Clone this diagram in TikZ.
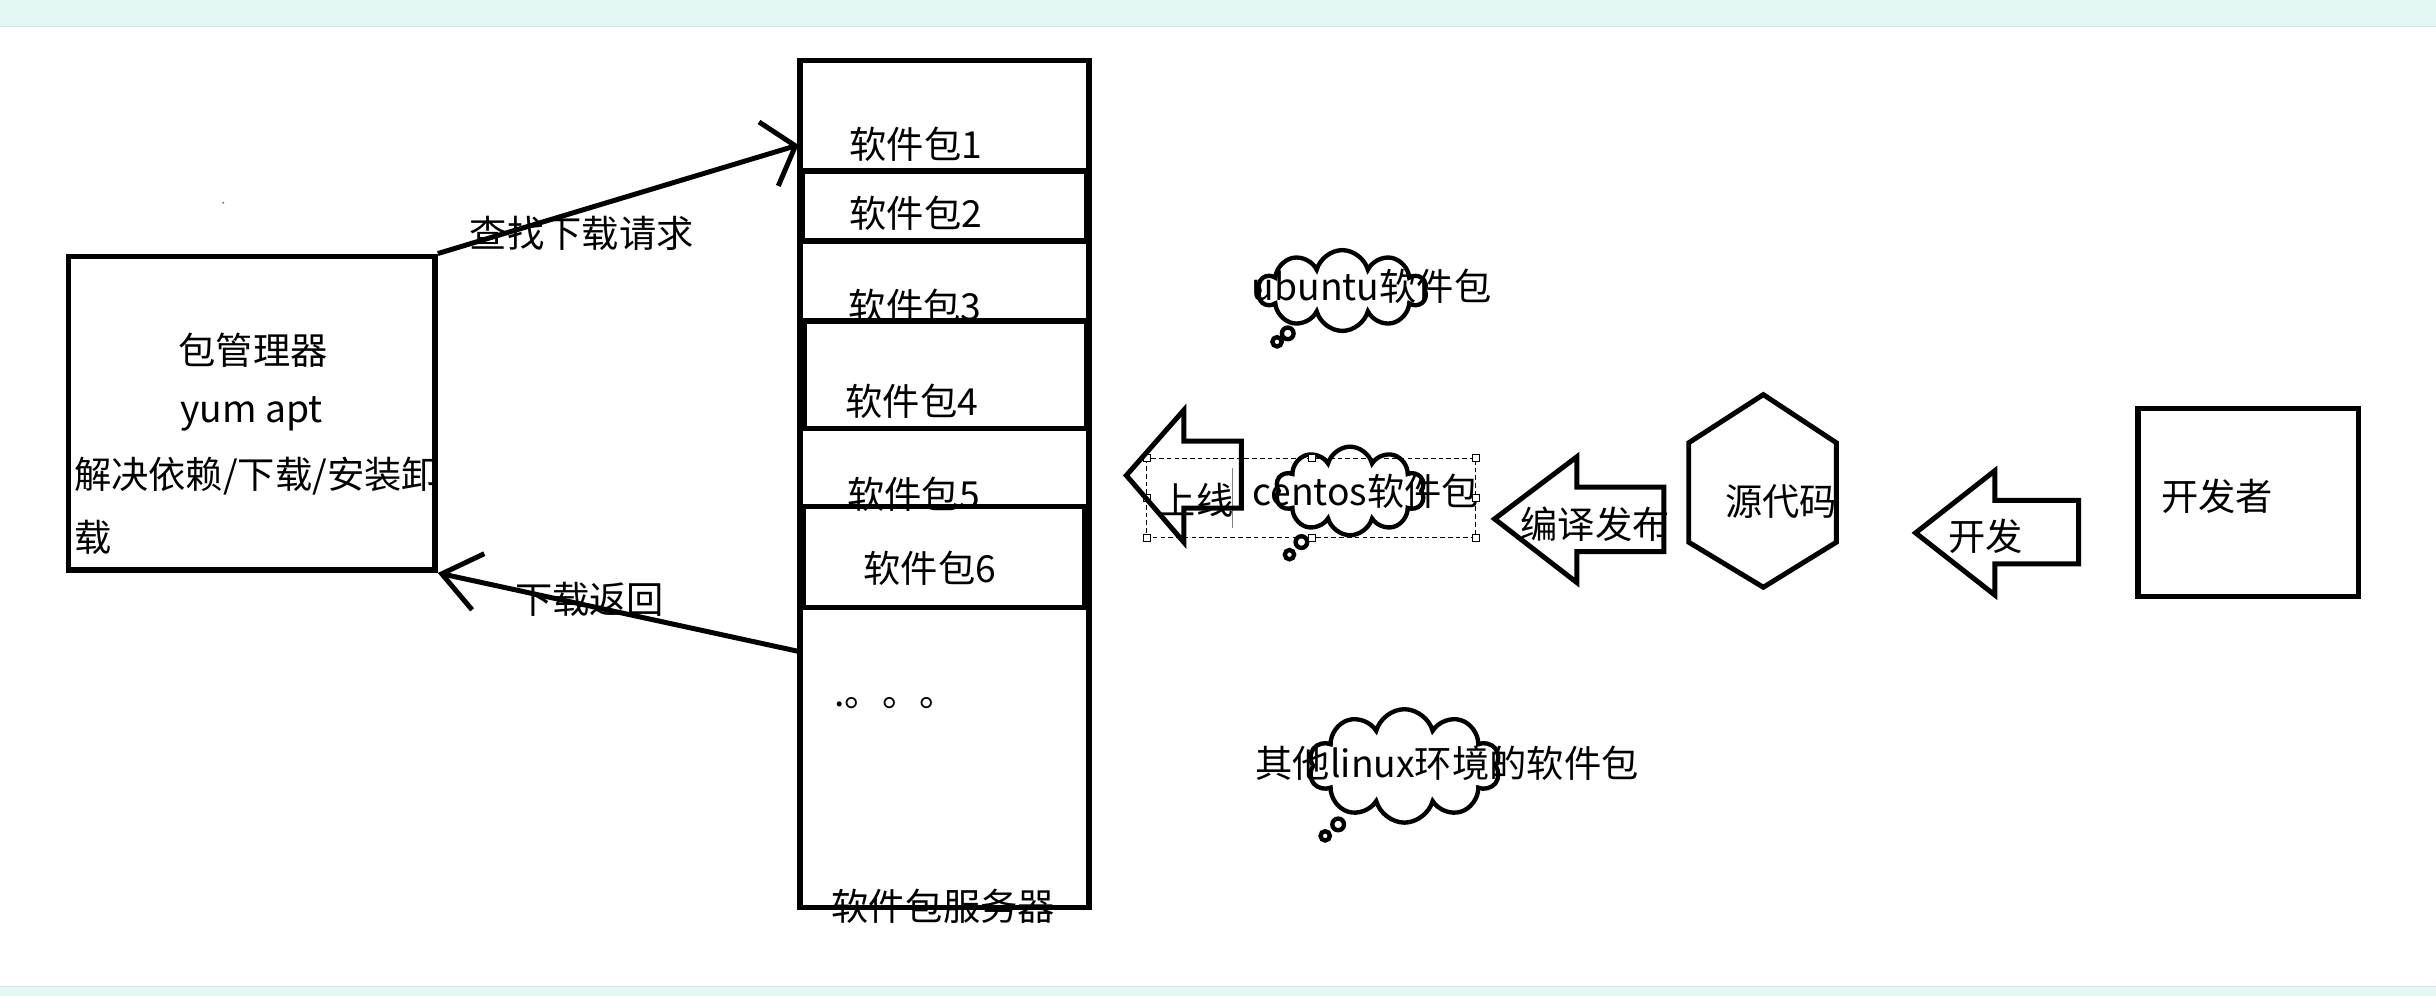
\documentclass[tikz,border=0pt]{standalone}
\usepackage{fontspec}
\setmainfont{Noto Sans CJK SC}
\usetikzlibrary{arrows.meta,shapes.callouts}
\definecolor{bandfill}{RGB}{228,247,245}
\definecolor{bandedge}{RGB}{210,230,228}

\begin{document}
\begin{tikzpicture}[x=1pt, y=-1pt,
  box/.style={draw, line width=3.6pt, inner sep=0pt},
  lbl/.style={font=\fontsize{24}{28}\selectfont, inner sep=0pt, anchor=base},
  blockarrow/.style={draw, line width=3.2pt, line join=miter},
  thought/.style={cloud callout, draw, line width=2.8pt, cloud puffs=10, callout pointer segments=2,
    callout pointer start size=15pt and 9pt, callout pointer end size=11pt and 6pt, inner sep=0pt},
  handle/.style={draw, fill=white, line width=0.6pt, minimum size=4.5pt, inner sep=0pt},
  flow/.style={line width=3.2pt}
]

  \useasboundingbox (0,0) rectangle (1568,641);
  \fill[white] (0,0) rectangle (1568,641);
  \fill[bandfill] (0,0) rectangle (1568,17);
  \draw[bandedge, line width=1pt] (0,17) -- (1568,17);
  \fill[bandfill] (0,635) rectangle (1568,641);
  \draw[bandedge, line width=1pt] (0,635) -- (1568,635);
  \fill[gray] (143.7,130.5) circle (0.7);

  % package manager
  \node[box, minimum width=236pt, minimum height=202pt] (pm) at (162,266) {};
  \node[lbl] (pmname) at (163,234.3) {包管理器};
  \node[lbl] (pmtool) at (162,272) {yum apt};
  \node[lbl, anchor=base west] (pmjob) at (47.5,314.3) {解决依赖/下载/安装卸};
  \node[lbl, anchor=base west] (pmjobb) at (47.5,354.8) {载};

  % server column and its packages
  \node[box, minimum width=186pt, minimum height=545pt] (server) at (608,311.5) {};
  \node[box, minimum width=183pt, minimum height=45pt] (pkg2) at (608,132.5) {};
  \node[box, minimum width=182pt, minimum height=69pt] (pkg4) at (608.5,241.3) {};
  \node[box, minimum width=181pt, minimum height=65pt] (pkg6) at (607.5,358.4) {};
  \node[lbl] (p1) at (589.5,101.8) {软件包1};
  \node[lbl] (p2) at (589.5,146.3) {软件包2};
  \node[lbl] (p3) at (589,206.3) {软件包3};
  \node[lbl] (p4) at (587,267.3) {软件包4};
  \node[lbl] (p5) at (588,327.3) {软件包5};
  \node[lbl] (p6) at (598.5,374.8) {软件包6};
  \node[lbl, anchor=base west] (more) at (537,455) {.。。。};
  \node[lbl] (servername) at (607,592.3) {软件包服务器};

  \coordinate (reqin) at (514,93.3);
  \coordinate (retout) at (515,419.5);
  \draw[flow, -{Straight Barb[length=18pt, width=43pt]}] (pm.north east) -- (reqin);
  \draw[flow, -{Straight Barb[length=24pt, width=37pt]}] (retout) -- (pm.south east);
  \node[lbl] (req) at (374.5,159.3) {查找下载请求};
  \node[lbl] (ret) at (379.5,394.8) {下载返回};

  % thought clouds
  \node[thought, minimum width=108pt, minimum height=52pt, callout absolute pointer={(822,220)}] (ubuntucloud) at (864,187) {};
  \node[thought, minimum width=96pt, minimum height=57pt, callout absolute pointer={(830,357)}] (centoscloud) at (869,316) {};
  \node[thought, minimum width=123pt, minimum height=73pt, callout absolute pointer={(853,538)}] (othercloud) at (904,493) {};
  \node[lbl, anchor=base west] (ubuntu) at (805.6,193.3) {ubuntu软件包};
  \node[lbl, anchor=base west] (centos) at (805.8,325.3) {centos软件包};
  \node[lbl, anchor=base west] (other) at (808,500.3) {其他linux环境的软件包};

  % selected text box
  \draw[dashed, line width=0.7pt, dash pattern=on 3pt off 2pt] (738,295) rectangle (950,346);
  \draw[gray, line width=0.6pt] (793.6,301) -- (793.6,340);
  \node[handle] (h1) at (738,295) {};
  \node[handle] (h2) at (844.5,295) {};
  \node[handle] (h3) at (950,295) {};
  \node[handle] (h4) at (738,320.5) {};
  \node[handle] (h5) at (950,320.5) {};
  \node[handle] (h6) at (738,346) {};
  \node[handle] (h7) at (844.5,346) {};
  \node[handle] (h8) at (950,346) {};

  % release flow
  \draw[blockarrow] (725,306) -- (762,264) -- (762,284) -- (799,284) -- (799,327) -- (762,327) -- (762,349) -- cycle;
  \node[lbl] (online) at (770,331.3) {上线};
  \draw[blockarrow] (962,334) -- (1015,294) -- (1015,313.5) -- (1071,313.5) -- (1071,355) -- (1015,355) -- (1015,375) -- cycle;
  \node[lbl] (build) at (1026.7,346.3) {编译发布};
  \draw[blockarrow] (1135,254) -- (1182,285) -- (1182,349) -- (1135,378) -- (1087,349) -- (1087,285) -- cycle;
  \node[lbl] (src) at (1146.6,331.8) {源代码};
  \draw[blockarrow] (1233,343) -- (1284,303) -- (1284,322) -- (1338,322) -- (1338,363) -- (1284,363) -- (1284,383) -- cycle;
  \node[lbl] (coding) at (1278,354.3) {开发};
  \node[box, minimum width=142pt, minimum height=121pt] (dev) at (1447,323.5) {};
  \node[lbl] (devname) at (1427,328.3) {开发者};

\end{tikzpicture}
\end{document}
